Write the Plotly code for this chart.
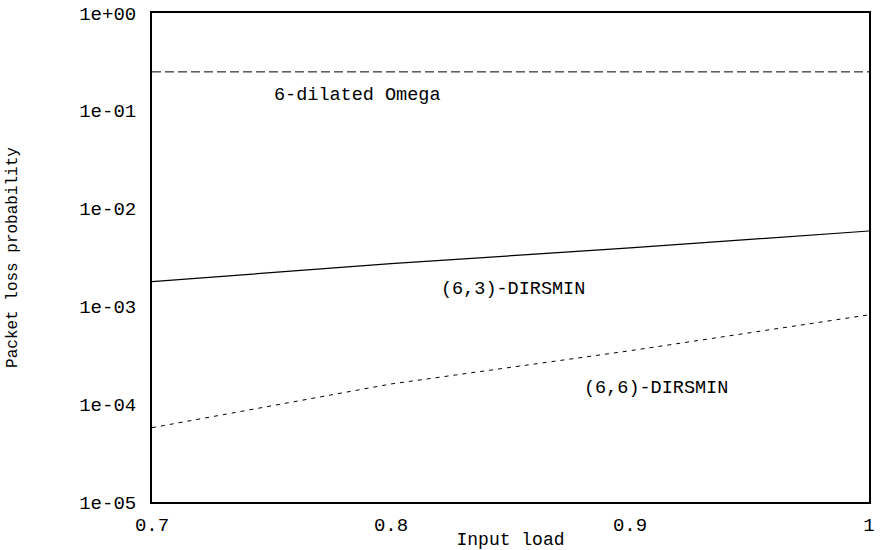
import math
import plotly.graph_objects as go

# ---- data ----
load = [0.7, 0.75, 0.8, 0.9, 1.0]
omega6 = [0.25, 0.25, 0.25, 0.25, 0.25]
dirsmin63 = [1.79e-3, 2.2e-3, 2.74e-3, 3.96e-3, 5.9e-3]
dirsmin66 = [5.75e-5, 9.6e-5, 1.61e-4, 3.52e-4, 8.2e-4]

ytick_vals = [1e-5, 1e-4, 1e-3, 1e-2, 1e-1, 1e0]
ytick_text = ["1e-05", "1e-04", "1e-03", "1e-02", "1e-01", "1e+00"]
yminor_vals = [m * 10.0 ** e for e in range(-5, 0) for m in (2, 5, 8)]
xtick_vals = [0.7, 0.8, 0.9, 1.0]
xtick_text = ["0.7", "0.8", "0.9", "1"]

labels = ["6-dilated Omega", "(6,3)-DIRSMIN", "(6,6)-DIRSMIN"]
label_x = [0.75, 0.82, 0.88]
label_y = [0.145, 1.5e-3, 1.45e-4]

FONT = "Liberation Mono, Courier New, monospace"
X_RANGE = [0.7, 1.0]
Y_RANGE = [-5, 0]

fig = go.Figure()
fig.add_trace(go.Scatter(x=load, y=omega6, mode="lines",
                         line=dict(color="black", width=1, dash="9px,4px"),
                         name=labels[0]))
fig.add_trace(go.Scatter(x=load, y=dirsmin63, mode="lines",
                         line=dict(color="black", width=1.2),
                         name=labels[1]))
fig.add_trace(go.Scatter(x=load, y=dirsmin66, mode="lines",
                         line=dict(color="black", width=1, dash="4px,5px"),
                         name=labels[2]))

for t, lx, ly in zip(labels, label_x, label_y):
    # annotations on a log axis are positioned in log10 units
    fig.add_annotation(x=lx, y=math.log10(ly), yref="y", xref="x", text=t,
                       showarrow=False, xanchor="left", yanchor="middle",
                       font=dict(family=FONT, size=18.5, color="black"))

# inward tick marks on all four sides of the frame, placed at the tick values
# through the axes (fixed pixel lengths)
tick_line = dict(color="black", width=1.5)


def y_tick(value, length):
    pos = math.log10(value)
    for anchor, x0, x1 in ((X_RANGE[0], 0, length), (X_RANGE[1], -length, 0)):
        fig.add_shape(type="line", xref="x", yref="y", xsizemode="pixel",
                      xanchor=anchor, x0=x0, x1=x1, y0=pos, y1=pos,
                      line=tick_line, layer="above")


def x_tick(value, length):
    for anchor, y0, y1 in ((Y_RANGE[0], 0, length), (Y_RANGE[1], -length, 0)):
        fig.add_shape(type="line", xref="x", yref="y", ysizemode="pixel",
                      yanchor=anchor, y0=y0, y1=y1, x0=value, x1=value,
                      line=tick_line, layer="above")


for v in ytick_vals:
    y_tick(v, 11)
for v in yminor_vals:
    y_tick(v, 5)
for v in xtick_vals:
    x_tick(v, 9)

axis_style = dict(showline=True, linecolor="black", linewidth=2, mirror=True,
                  showgrid=False, zeroline=False, automargin=False, ticks="")

fig.update_layout(
    width=880, height=550,
    margin=dict(l=152, r=11, t=13, b=48),
    paper_bgcolor="white", plot_bgcolor="white",
    showlegend=False,
    font=dict(family=FONT, color="black"),
    xaxis=dict(
        range=X_RANGE, tickvals=xtick_vals, ticktext=xtick_text,
        tickfont=dict(family=FONT, size=19), ticklabelstandoff=4,
        ticklabeloverflow="allow",
        title=dict(text="Input load", font=dict(family=FONT, size=18), standoff=0),
        **axis_style,
    ),
    yaxis=dict(
        type="log", range=Y_RANGE, tickvals=ytick_vals, ticktext=ytick_text,
        tickfont=dict(family=FONT, size=19), ticklabelstandoff=10,
        ticklabeloverflow="allow",
        title=dict(text="Packet loss probability",
                   font=dict(family=FONT, size=16), standoff=58),
        **axis_style,
    ),
)

# remove the default 8px page margin so the figure sits at the window origin
fig.write_html("out.html", config={"displayModeBar": False},
               post_script="document.body.style.margin='0px';")
